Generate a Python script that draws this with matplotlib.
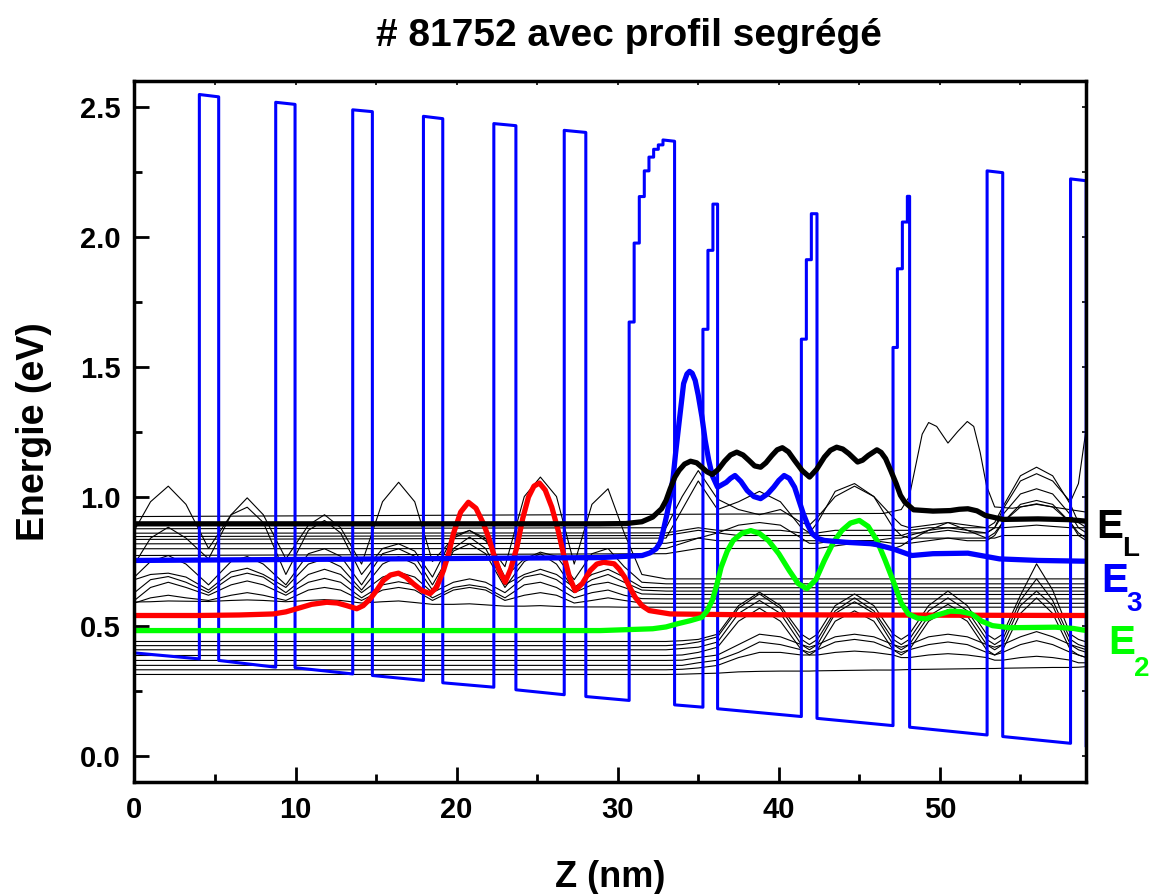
import numpy as np
import matplotlib.pyplot as plt

plt.rcParams['font.family'] = ['Liberation Sans', 'DejaVu Sans']
plt.rcParams['font.weight'] = 'bold'

# conduction band profile (z in nm, energy in eV)
band_z = [0, 0, 4.03, 4.03, 5.23, 5.23, 8.77, 8.77, 9.97, 9.97, 13.55, 13.55, 14.77, 14.77,
          17.94, 17.94, 19.14, 19.14, 22.31, 22.31, 23.68, 23.68, 26.68, 26.68, 28.02, 28.02,
          30.71, 30.71, 31.02, 31.02, 31.34, 31.34, 31.65, 31.65, 31.94, 31.94, 32.23, 32.23,
          32.52, 32.52, 32.81, 32.81, 33.53, 33.53, 35.29,
          35.29, 35.60, 35.60, 35.91, 35.91, 36.20, 36.20, 41.40,
          41.40, 41.71, 41.71, 42.02, 42.02, 42.37, 42.37, 47.09,
          47.09, 47.36, 47.36, 47.67, 47.67, 47.98, 47.98, 48.12, 48.12, 52.93,
          52.93, 53.90, 53.90, 58.11, 58.11, 59.08, 59.08]
band_e = [2.577, 0.398, 0.375, 2.548, 2.539, 0.369, 0.343, 2.518, 2.510, 0.341, 0.317, 2.489, 2.482, 0.311,
          0.292, 2.464, 2.455, 0.283, 0.266, 2.436, 2.428, 0.256, 0.237, 2.410, 2.402, 0.230,
          0.215, 1.672, 1.672, 1.976, 1.976, 2.155, 2.155, 2.254, 2.254, 2.307, 2.307, 2.337,
          2.337, 2.354, 2.354, 2.373, 2.368, 0.198, 0.189,
          1.644, 1.644, 1.948, 1.948, 2.126, 2.126, 0.183, 0.153,
          1.606, 1.606, 1.912, 1.912, 2.089, 2.089, 0.146, 0.118,
          1.574, 1.574, 1.877, 1.877, 2.057, 2.057, 2.156, 2.156, 0.112, 0.082,
          2.254, 2.247, 0.076, 0.050, 2.223, 2.216, 0.041]

# highlighted states
el_z = [0, 28.9, 30.5, 31.5, 32.17, 32.72, 33.0, 33.26, 33.55, 33.81, 34.15, 34.52, 34.9, 35.22, 35.55,
        35.87, 36.25, 36.63, 37.0, 37.39, 37.78, 38.15, 38.5, 38.87, 39.2, 39.57, 39.9, 40.22, 40.6,
        40.98, 41.45, 41.91, 42.35, 42.83, 43.2, 43.59, 43.97, 44.35, 44.89, 45.2, 45.55, 46.09, 46.35,
        46.63, 46.95, 47.29, 47.55, 47.83, 48.37, 49.57, 50.65, 51.2, 51.74, 52.3, 52.83, 53.91, 56.09,
        58.04, 59.1]
el_e = [0.895, 0.895, 0.896, 0.903, 0.921, 0.953, 0.985, 1.030, 1.075, 1.101, 1.125, 1.136, 1.130, 1.113, 1.095,
        1.085, 1.105, 1.136, 1.160, 1.171, 1.160, 1.139, 1.118, 1.113, 1.130, 1.158, 1.180, 1.188, 1.172,
        1.139, 1.100, 1.075, 1.105, 1.152, 1.178, 1.190, 1.183, 1.165, 1.133, 1.140, 1.158, 1.180, 1.170,
        1.146, 1.100, 1.049, 1.005, 0.978, 0.949, 0.944, 0.946, 0.951, 0.953, 0.945, 0.927, 0.912, 0.914,
        0.911, 0.905]

e3_z = [0, 28.91, 31.52, 32.0, 32.39, 32.65, 32.83, 33.05, 33.26, 33.45, 33.59, 33.80, 34.09, 34.3, 34.46,
        34.62, 34.81, 35.0, 35.23, 35.43, 35.65, 35.87, 36.2, 36.74, 37.0, 37.28, 37.65, 38.04, 38.45,
        38.87, 39.3, 39.68, 40.0, 40.33, 40.65, 40.98, 41.25, 41.52, 41.8, 42.07, 42.45, 42.83, 44.13,
        45.87, 47.07, 48.26, 49.57, 51.74, 53.70, 56.09, 59.1]
e3_e = [0.754, 0.765, 0.773, 0.783, 0.799, 0.825, 0.870, 0.93, 0.998, 1.08, 1.165, 1.280, 1.435, 1.472, 1.482,
        1.475, 1.447, 1.39, 1.306, 1.216, 1.14, 1.081, 1.036, 1.055, 1.070, 1.081, 1.058, 1.023, 1.000,
        0.992, 1.010, 1.036, 1.062, 1.081, 1.070, 1.036, 0.985, 0.934, 0.890, 0.857, 0.838, 0.831, 0.824,
        0.818, 0.799, 0.773, 0.780, 0.782, 0.760, 0.754, 0.751]

red_z = [0, 3.86, 6.5, 8.62, 9.4, 10.07, 11.0, 11.94, 12.6, 13.18, 13.80, 14.2, 14.63, 15.05, 15.45,
         15.9, 16.39, 16.85, 17.32, 17.85, 18.35, 18.75, 19.18, 19.50, 19.80, 20.25, 20.73, 21.2, 21.67,
         22.0, 22.29, 22.65, 23.01, 23.35, 23.74, 24.1, 24.46, 24.8, 25.14, 25.5, 25.91, 26.3, 26.63,
         27.0, 27.36, 27.8, 28.29, 28.7, 29.12, 29.78, 30.1, 30.43, 30.75, 31.09, 31.5, 31.96, 33.26,
         37.61, 59.1]
red_e = [0.542, 0.542, 0.544, 0.548, 0.556, 0.568, 0.585, 0.593, 0.590, 0.580, 0.568, 0.580, 0.606, 0.640, 0.677,
         0.698, 0.705, 0.690, 0.664, 0.638, 0.626, 0.650, 0.715, 0.780, 0.857, 0.940, 0.978, 0.955, 0.895,
         0.840, 0.780, 0.715, 0.670, 0.720, 0.805, 0.915, 0.998, 1.040, 1.052, 1.025, 0.959, 0.870, 0.780,
         0.690, 0.638, 0.665, 0.715, 0.740, 0.747, 0.741, 0.720, 0.690, 0.650, 0.612, 0.580, 0.561, 0.548,
         0.545, 0.542]

e2_z = [0, 28.91, 32.17, 33.0, 33.70, 34.5, 35.22, 35.55, 35.87, 36.15, 36.42, 36.8, 37.17, 37.7, 38.26,
        38.8, 39.35, 40.0, 40.65, 41.2, 41.74, 42.3, 42.83, 43.4, 43.91, 44.45, 45.0, 45.55, 46.09, 46.6,
        47.17, 47.6, 48.04, 48.6, 49.13, 49.9, 50.65, 51.3, 51.96, 52.6, 53.26, 54.35, 57.17, 58.3, 59.1]
e2_e = [0.484, 0.484, 0.491, 0.498, 0.510, 0.522, 0.535, 0.560, 0.600, 0.660, 0.728, 0.790, 0.831, 0.858, 0.869,
        0.858, 0.831, 0.780, 0.715, 0.665, 0.645, 0.680, 0.754, 0.825, 0.869, 0.898, 0.908, 0.885, 0.831, 0.755,
        0.664, 0.590, 0.548, 0.532, 0.529, 0.545, 0.559, 0.557, 0.548, 0.520, 0.503, 0.495, 0.497, 0.492, 0.484]

# other states, left superlattice (shared z grid)
left_z = [0, 1.0, 2.1, 3.2, 4.6, 6.0, 7.0, 8.0, 9.4, 10.8, 11.8, 12.8, 14.1, 15.4, 16.4, 17.4,
          18.5, 19.8, 20.8, 21.8, 23.0, 24.2, 25.2, 26.2, 27.3, 28.4, 29.4, 30.4, 31.5, 33.0, 59.1]
left_states = [
    [0.87, 0.98, 1.04, 0.97, 0.80, 0.93, 0.995, 0.93, 0.76, 0.89, 0.93, 0.88, 0.74, 0.98, 1.055, 0.98,
     0.75, 0.84, 0.87, 0.83, 0.73, 1.00, 1.075, 1.00, 0.74, 0.97, 1.03, 0.86, 0.70, 0.683, 0.683],
    [0.74, 0.84, 0.882, 0.84, 0.76, 0.93, 0.959, 0.90, 0.70, 0.87, 0.908, 0.86, 0.70, 0.80, 0.818, 0.79,
     0.69, 0.85, 0.869, 0.84, 0.69, 0.76, 0.786, 0.77, 0.68, 0.78, 0.80, 0.73, 0.67, 0.664, 0.664],
    [0.69, 0.75, 0.773, 0.74, 0.66, 0.75, 0.769, 0.74, 0.66, 0.78, 0.799, 0.77, 0.66, 0.78, 0.799, 0.77,
     0.66, 0.80, 0.844, 0.80, 0.66, 0.70, 0.72, 0.70, 0.65, 0.70, 0.72, 0.69, 0.65, 0.649, 0.649],
    [0.68, 0.70, 0.705, 0.69, 0.64, 0.71, 0.724, 0.70, 0.65, 0.74, 0.76, 0.73, 0.64, 0.74, 0.769, 0.74,
     0.64, 0.79, 0.818, 0.78, 0.65, 0.75, 0.78, 0.74, 0.64, 0.68, 0.70, 0.67, 0.64, 0.636, 0.636],
    [0.63, 0.68, 0.692, 0.67, 0.63, 0.69, 0.705, 0.69, 0.63, 0.70, 0.72, 0.70, 0.63, 0.69, 0.709, 0.69,
     0.63, 0.67, 0.683, 0.67, 0.63, 0.69, 0.702, 0.68, 0.63, 0.66, 0.67, 0.65, 0.625, 0.623, 0.623],
    [0.60, 0.65, 0.670, 0.65, 0.62, 0.66, 0.675, 0.66, 0.62, 0.67, 0.685, 0.67, 0.61, 0.66, 0.672, 0.66,
     0.61, 0.65, 0.660, 0.65, 0.61, 0.66, 0.670, 0.65, 0.61, 0.63, 0.64, 0.62, 0.607, 0.606, 0.606],
    [0.59, 0.61, 0.620, 0.61, 0.60, 0.62, 0.630, 0.62, 0.60, 0.64, 0.650, 0.64, 0.60, 0.64, 0.650, 0.64,
     0.60, 0.64, 0.650, 0.64, 0.60, 0.62, 0.630, 0.62, 0.59, 0.60, 0.61, 0.60, 0.590, 0.589, 0.589],
    [0.594, 0.595, 0.598, 0.597, 0.596, 0.600, 0.602, 0.600, 0.595, 0.600, 0.603, 0.600, 0.590, 0.595,
     0.598, 0.592, 0.585, 0.585, 0.587, 0.583, 0.578, 0.578, 0.580, 0.577, 0.575, 0.575, 0.575, 0.574,
     0.574, 0.574, 0.574],
]

# upper state with the double bump near z = 50 nm
top_state_z = [0, 46.5, 47.6, 48.1, 48.5, 48.9, 49.3, 49.8, 50.5, 51.1, 51.7, 52.1, 52.5, 52.9, 53.4,
               54.5, 56.0, 57.5, 59.1]
top_state_e = [0.923, 0.935, 0.95, 1.00, 1.12, 1.24, 1.285, 1.27, 1.206, 1.25, 1.289, 1.27, 1.17, 1.04, 0.96,
               0.955, 0.97, 0.955, 0.94]

# other states, right part (shared z grid)
right_z = [0, 33.0, 34.0, 35.0, 36.2, 37.5, 38.8, 40.1, 41.4, 41.9, 42.4, 43.5, 44.7, 45.9, 47.1,
           47.6, 48.1, 49.3, 50.5, 51.7, 52.9, 53.4, 53.9, 55.0, 56.0, 57.0, 58.1, 58.6, 59.1]
right_states = [
    # upper group
    [0.876, 0.88, 1.00, 1.10, 0.99, 0.95, 0.93, 0.95, 0.90, 0.89, 0.92, 1.00, 1.04, 1.00, 0.92,
     0.89, 0.88, 0.89, 0.90, 0.89, 0.88, 0.88, 0.88, 0.885, 0.89, 0.885, 0.88, 0.88, 0.88],
    [0.859, 0.86, 0.87, 0.88, 0.87, 0.87, 0.87, 0.87, 0.86, 0.86, 0.86, 0.87, 0.87, 0.87, 0.87,
     0.87, 0.87, 0.88, 0.88, 0.88, 0.88, 0.90, 0.96, 1.08, 1.113, 1.08, 0.97, 0.90, 0.88],
    [0.846, 0.85, 0.86, 0.87, 0.86, 0.85, 0.85, 0.85, 0.85, 0.85, 0.85, 0.85, 0.85, 0.85, 0.85,
     0.85, 0.86, 0.86, 0.87, 0.86, 0.86, 0.88, 0.95, 1.06, 1.088, 1.06, 0.98, 1.05, 1.27],
    [0.835, 0.84, 0.95, 1.06, 0.95, 0.98, 1.02, 0.98, 0.88, 0.86, 0.90, 1.02, 1.05, 1.00, 0.88,
     0.85, 0.84, 0.84, 0.84, 0.84, 0.84, 0.84, 0.85, 0.85, 0.85, 0.85, 0.85, 0.85, 0.85],
    [0.818, 0.82, 0.83, 0.84, 0.83, 0.83, 0.83, 0.83, 0.83, 0.83, 0.83, 0.83, 0.83, 0.83, 0.84,
     0.84, 0.85, 0.87, 0.88, 0.87, 0.86, 0.88, 0.93, 1.01, 1.03, 1.01, 0.93, 0.88, 0.86],
    [0.799, 0.80, 0.82, 0.84, 0.86, 0.89, 0.90, 0.89, 0.84, 0.82, 0.82, 0.83, 0.83, 0.83, 0.82,
     0.82, 0.82, 0.83, 0.84, 0.83, 0.83, 0.85, 0.90, 0.97, 0.985, 0.97, 0.90, 0.86, 0.84],
    [0.773, 0.78, 0.79, 0.80, 0.80, 0.80, 0.80, 0.80, 0.80, 0.80, 0.80, 0.81, 0.82, 0.81, 0.80,
     0.81, 0.83, 0.87, 0.90, 0.87, 0.84, 0.86, 0.90, 0.96, 0.972, 0.96, 0.90, 0.85, 0.83],
    # lower group
    [0.442, 0.442, 0.445, 0.45, 0.47, 0.58, 0.632, 0.58, 0.47, 0.45, 0.47, 0.58, 0.625, 0.58, 0.47,
     0.45, 0.47, 0.58, 0.636, 0.58, 0.47, 0.45, 0.47, 0.62, 0.741, 0.64, 0.47, 0.45, 0.44],
    [0.426, 0.426, 0.43, 0.44, 0.46, 0.57, 0.625, 0.57, 0.45, 0.43, 0.45, 0.56, 0.610, 0.56, 0.45,
     0.43, 0.45, 0.56, 0.610, 0.56, 0.45, 0.43, 0.45, 0.60, 0.683, 0.60, 0.45, 0.43, 0.42],
    [0.410, 0.410, 0.415, 0.42, 0.44, 0.55, 0.600, 0.55, 0.43, 0.41, 0.43, 0.55, 0.595, 0.55, 0.43,
     0.41, 0.43, 0.54, 0.585, 0.54, 0.43, 0.41, 0.43, 0.58, 0.636, 0.58, 0.43, 0.41, 0.40],
    [0.388, 0.388, 0.39, 0.40, 0.42, 0.52, 0.570, 0.52, 0.41, 0.39, 0.41, 0.52, 0.560, 0.52, 0.41,
     0.39, 0.41, 0.52, 0.565, 0.52, 0.41, 0.39, 0.41, 0.55, 0.610, 0.55, 0.41, 0.39, 0.38],
    [0.369, 0.369, 0.37, 0.38, 0.39, 0.43, 0.470, 0.46, 0.43, 0.42, 0.43, 0.46, 0.470, 0.46, 0.43,
     0.42, 0.43, 0.46, 0.470, 0.46, 0.43, 0.42, 0.43, 0.46, 0.480, 0.46, 0.43, 0.42, 0.41],
    [0.350, 0.350, 0.35, 0.36, 0.37, 0.40, 0.440, 0.43, 0.41, 0.40, 0.41, 0.44, 0.450, 0.44, 0.41,
     0.40, 0.41, 0.43, 0.440, 0.43, 0.40, 0.39, 0.40, 0.43, 0.445, 0.43, 0.40, 0.39, 0.38],
    [0.333, 0.333, 0.335, 0.34, 0.35, 0.38, 0.400, 0.40, 0.39, 0.39, 0.39, 0.40, 0.405, 0.40, 0.39,
     0.38, 0.38, 0.39, 0.395, 0.39, 0.38, 0.37, 0.37, 0.38, 0.385, 0.38, 0.37, 0.36, 0.36],
    [0.315, 0.315, 0.316, 0.318, 0.32, 0.325, 0.327, 0.328, 0.328, 0.328, 0.329, 0.330, 0.331, 0.332,
     0.332, 0.333, 0.334, 0.335, 0.336, 0.337, 0.338, 0.338, 0.339, 0.340, 0.341, 0.342, 0.342, 0.343, 0.345],
]

fig = plt.figure(figsize=(11.49, 8.94), dpi=100)
ax = fig.add_axes([0.117, 0.125, 0.8286, 0.7844])

# thin wavefunctions first
for vals in left_states:
    ax.plot(left_z, vals, color='black', linewidth=0.8)
for vals in right_states:
    ax.plot(right_z, vals, color='black', linewidth=0.8)
ax.plot(top_state_z, top_state_e, color='black', linewidth=0.8)

# band profile
ax.plot(band_z, band_e, color='#0000ff', linewidth=2.2)

# highlighted states
ax.plot(red_z, red_e, color='#ff0000', linewidth=3.8, solid_joinstyle='round')
ax.plot(e2_z, e2_e, color='#00ff00', linewidth=3.8, solid_joinstyle='round')
ax.plot(e3_z, e3_e, color='#0000ff', linewidth=3.8, solid_joinstyle='round')
ax.plot(el_z, el_e, color='black', linewidth=3.8, solid_joinstyle='round')

ax.set_xlim(0, 59.1)
ax.set_ylim(-0.1, 2.6)

ax.set_xticks(np.arange(0, 60, 10))
ax.set_xticks(np.arange(5, 60, 10), minor=True)
ax.set_yticks(np.arange(0, 2.51, 0.5))
ax.set_yticks(np.arange(0.25, 2.6, 0.5), minor=True)
ax.set_yticklabels(['0.0', '0.5', '1.0', '1.5', '2.0', '2.5'])
ax.tick_params(which='major', direction='in', length=11, width=2, labelsize=21, pad=10)
ax.tick_params(which='minor', direction='in', length=6, width=2)
for s in ax.spines.values():
    s.set_linewidth(2.5)

# small ticks on top and right
top = ax.secondary_xaxis('top')
top.set_xticks(np.arange(0, 60, 5))
top.tick_params(direction='in', length=3, width=1.2, labeltop=False)
right = ax.secondary_yaxis('right')
right.set_yticks(np.arange(0, 2.6, 0.25))
right.tick_params(direction='in', length=3, width=1.2, labelright=False)

ax.set_xlabel('Z (nm)', fontsize=26, fontweight='bold', labelpad=26)
ax.set_ylabel('Energie (eV)', fontsize=27, fontweight='bold', labelpad=20)
fig.suptitle('# 81752 avec profil segrégé', fontsize=28, fontweight='bold', x=0.547, y=0.98)

# level labels
ax.text(59.72, 0.839, 'E', color='black', fontsize=29, fontweight='bold', clip_on=False)
ax.text(61.30, 0.773, 'L', color='black', fontsize=20, fontweight='bold', clip_on=False)
ax.text(60.03, 0.632, 'E', color='#0000ff', fontsize=29, fontweight='bold', clip_on=False)
ax.text(61.58, 0.561, '3', color='#0000ff', fontsize=20, fontweight='bold', clip_on=False)
ax.text(60.46, 0.392, 'E', color='#00ff00', fontsize=29, fontweight='bold', clip_on=False)
ax.text(62.02, 0.311, '2', color='#00ff00', fontsize=20, fontweight='bold', clip_on=False)

plt.savefig('out.png', dpi=100)
